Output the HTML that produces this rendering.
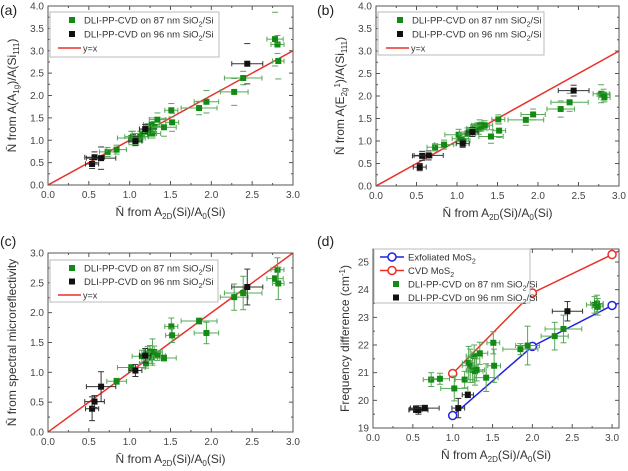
<!DOCTYPE html>
<html><head><meta charset="utf-8"><style>
body{margin:0;background:#fff;width:628px;height:471px;overflow:hidden}
svg{display:block;font-family:"Liberation Sans",sans-serif}
</style></head><body>
<svg id="chart" width="628" height="471" viewBox="0 0 628 471"></svg>
<script>
// shared x values (N from A2D(Si)/A0(Si))
const greenX =   [0.73,0.84,1.02,1.04,1.08,1.13,1.15,1.20,1.22,1.25,1.27,1.28,1.30,1.34,1.42,1.51,1.52,1.85,1.94,2.28,2.39,2.78,2.81,2.82];
const greenXerr= [0.10,0.12,0.17,0.10,0.08,0.10,0.12,0.08,0.10,0.08,0.10,0.10,0.10,0.10,0.15,0.08,0.08,0.22,0.15,0.17,0.23,0.10,0.08,0.07];
const blackX =   [0.54,0.57,0.65,1.07,1.19,2.44];
const blackXerr= [0.08,0.12,0.18,0.08,0.07,0.19];
// panel a
const greenYa = [0.74,0.79,1.05,1.08,1.00,1.08,1.15,1.20,1.25,1.15,1.35,1.15,1.30,1.46,1.29,1.67,1.40,1.72,1.86,2.08,2.39,3.26,3.14,2.77];
const greenYaErr=[0.1,0.1,0.15,0.12,0.1,0.12,0.1,0.12,0.12,0.1,0.15,0.1,0.12,0.15,0.2,0.15,0.2,0.15,0.25,0.3,0.15,0.6,0.2,0.4];
const blackYa = [0.47,0.62,0.60,0.98,1.25,2.71];
const blackYaErr=[0.1,0.12,0.25,0.1,0.1,0.45];
// panel b
const greenYb = [0.86,0.92,1.14,1.05,1.00,1.17,1.20,1.25,1.28,1.30,1.27,1.35,1.32,1.35,1.10,1.48,1.23,1.47,1.59,1.71,1.86,2.05,2.03,1.97];
const greenYbErr=[0.08,0.1,0.12,0.1,0.1,0.12,0.1,0.12,0.1,0.1,0.12,0.12,0.1,0.1,0.15,0.1,0.15,0.12,0.12,0.18,0.2,0.2,0.12,0.1];
const blackYb = [0.42,0.67,0.68,0.94,1.20,2.12];
const blackYbErr=[0.08,0.1,0.1,0.08,0.1,0.12];
// panel c
const greenYc = [null,0.85,1.08,null,null,null,1.27,1.15,1.31,1.35,1.25,1.34,1.34,1.28,1.24,1.77,1.62,1.86,1.66,2.26,2.33,2.57,2.72,2.49];
const greenYcErr=[0,0.05,0.05,0,0,0,0.1,0.08,0.12,0.1,0.1,0.22,0.1,0.08,0.05,0.14,0.12,0.05,0.18,0.22,0.28,0.05,0.2,0.27];
const blackYc = [0.39,0.51,0.76,1.03,1.28,2.43];
const blackYcErr=[0.2,0.1,0.25,0.1,0.12,0.3];
// panel d
const greenYd = [20.75,20.78,20.43,null,null,null,20.75,21.35,21.25,21.10,21.60,21.05,21.10,21.70,20.82,22.08,21.25,21.85,21.98,22.32,22.58,23.45,23.50,23.38];
const greenYdErr=[0.25,0.2,0.45,0,0,0,0.3,0.6,0.6,0.45,0.4,0.5,0.4,0.4,0.5,0.4,0.6,0.2,0.7,0.5,0.5,0.3,0.3,0.3];
const blackYd = [19.68,19.65,19.72,19.72,20.20,23.22];
const blackYdErr=[0.12,0.15,0.1,0.35,0.1,0.35];
const exfX=[1,2,3,3.1], exfY=[19.45,21.95,23.43,23.52];
const cvdX=[1,2,3,3.1], cvdY=[20.97,23.88,25.27,25.42];
const xTicks=[0,0.5,1,1.5,2,2.5,3];
const yTicks4=[0,0.5,1,1.5,2,2.5,3,3.5,4];
const yTicks3=[0,0.5,1,1.5,2,2.5,3];
const yTicksD=[19,20,21,22,23,24,25];

const svg=document.getElementById('chart');
const NS='http://www.w3.org/2000/svg';
function mk(tag,attrs,parent,text){const e=document.createElementNS(NS,tag);for(const k in attrs)e.setAttribute(k,attrs[k]);if(text!==undefined)e.textContent=text;(parent||svg).appendChild(e);return e;}

function panel(P){
  const g=mk('g',{});
  
  
  const sx=v=>P.l+(v-P.xmin)/(P.xmax-P.xmin)*(P.r-P.l);
  const sy=v=>P.b-(v-P.ymin)/(P.ymax-P.ymin)*(P.b-P.t);
  const clip='c'+P.name;
  const cp=mk('clipPath',{id:clip},g);mk('rect',{x:P.l,y:P.t,width:P.r-P.l,height:P.b-P.t},cp);
  const tc='#555';
  P.xt.forEach(v=>{const x=sx(v);
    const t=mk('line',{x1:x,x2:x,y1:P.b,y2:P.b-4,stroke:tc,'stroke-width':1},g);
    
    mk('line',{x1:x,x2:x,y1:P.t,y2:P.t+4,stroke:tc},g);
    const l=mk('text',{x:x,y:P.b+13,'text-anchor':'middle','font-size':10,fill:'#444'},g,v.toFixed(1));
    
    const m=x+(sx(0.25)-sx(0));if(v+0.25<=P.xmax){mk('line',{x1:m,x2:m,y1:P.b,y2:P.b-2,stroke:tc},g);mk('line',{x1:m,x2:m,y1:P.t,y2:P.t+2,stroke:tc},g);}
  });
  P.yt.forEach((v,i)=>{const y=sy(v);
    const t=mk('line',{x1:P.l,x2:P.l+4,y1:y,y2:y,stroke:tc},g);
    
    mk('line',{x1:P.r,x2:P.r-4,y1:y,y2:y,stroke:tc},g);
    const l=mk('text',{x:P.l-4,y:y+3.5,'text-anchor':'end','font-size':10,fill:'#444'},g,P.yfmt(v));
    
    if(i<P.yt.length-1){const m=(y+sy(P.yt[i+1]))/2;mk('line',{x1:P.l,x2:P.l+2,y1:m,y2:m,stroke:tc},g);mk('line',{x1:P.r,x2:P.r-2,y1:m,y2:m,stroke:tc},g);}
  });
  const pg=mk('g',{'clip-path':'url(#'+clip+')'},g);
  if(P.diag){const d=mk('line',{x1:sx(0),y1:sy(0),x2:sx(3),y2:sy(3),stroke:'#e8322b','stroke-width':1.5},pg);
    }
  if(P.lines){P.lines.forEach(L=>{
    const pts=L.x.map((v,i)=>sx(v)+','+sy(L.y[i])).join(' ');
    const pl=mk('polyline',{points:pts,fill:'none',stroke:L.c,'stroke-width':1.5},pg);
    
    L.x.forEach((v,i)=>{if(v>3.05)return;const c=mk('circle',{cx:sx(v),cy:sy(L.y[i]),r:4,fill:'#fff',stroke:L.c,'stroke-width':1.5},pg);
      });
  });}
  function series(xs,xe,ys,ye,col,ecol,nm){
    xs.forEach((x,i)=>{const y=ys[i];if(y===null)return;
      const X=sx(x),Y=sy(y),x1=sx(x-xe[i]),x2=sx(x+xe[i]),y1=sy(y-ye[i]),y2=sy(y+ye[i]);
      const e=mk('g',{stroke:ecol,'stroke-width':1},pg);
      
      mk('line',{x1:x1,x2:x2,y1:Y,y2:Y},e);mk('line',{x1:x1,x2:x1,y1:Y-2.5,y2:Y+2.5},e);mk('line',{x1:x2,x2:x2,y1:Y-2.5,y2:Y+2.5},e);
      if(!P.capOnly)mk('line',{x1:X,x2:X,y1:y1,y2:y2},e);
      mk('line',{x1:X-3,x2:X+3,y1:y1,y2:y1},e);mk('line',{x1:X-3,x2:X+3,y1:y2,y2:y2},e);
      const r=mk('rect',{x:X-3,y:Y-3,width:6,height:6,fill:col},pg);
      
    });
  }
  series(greenX,greenXerr,P.gy,P.gye,'#138a13','#55a855','green-series');
  series(blackX,blackXerr,P.by,P.bye,'#111','#333','black-series');
  const fr=mk('rect',{x:P.l,y:P.t,width:P.r-P.l,height:P.b-P.t,fill:'none',stroke:'#555','stroke-width':1},g);
  
  const lg=mk('g',{},g);
  mk('rect',{x:P.lg.x,y:P.lg.y,width:P.lg.w,height:P.lg.h,fill:'#fff',stroke:'#bbb'},lg);
  P.lg.items.forEach((it,i)=>{const y=P.lg.y+8+i*P.lg.dy,x=P.lg.x;
    const en=mk('g',{},lg);
    if(it.t==='sq')mk('rect',{x:x+19,y:y-3,width:6,height:6,fill:it.c},en);
    else if(it.t==='ln')mk('line',{x1:x+8,x2:x+31,y1:y,y2:y,stroke:it.c,'stroke-width':1.5},en);
    else{mk('line',{x1:x+6,x2:x+30,y1:y,y2:y,stroke:it.c,'stroke-width':1.5},en);mk('circle',{cx:x+18,cy:y,r:4,fill:'#fff',stroke:it.c,'stroke-width':1.5},en);}
    const tx=mk('text',{x:x+(it.t==='ln'?33:34),y:y+3.5,'font-size':it.t==='ln'?9:9.5,fill:'#333'},en);tx.innerHTML=it.label;
  });
  const xt=mk('text',{x:(P.l+P.r)/2,y:P.b+31,'text-anchor':'middle','font-size':12,fill:'#333'},g);
  xt.innerHTML='N\u0304 from A<tspan font-size="8" dy="3">2D</tspan><tspan dy="-3">(Si)/A</tspan><tspan font-size="8" dy="3">0</tspan><tspan dy="-3">(Si)</tspan>';
  
  const yx=P.l-P.ytOff,yc=(P.t+P.b)/2;
  const yt=mk('text',{x:yx,y:yc,'text-anchor':'middle','font-size':12,fill:'#333',transform:'rotate(-90 '+yx+' '+yc+')'},g);
  yt.innerHTML=P.ytitle;
  const pl=mk('text',{x:P.lab[0],y:P.lab[1],'font-size':14,fill:'#222'},g,P.label);
  
}
const sqItems=[{t:'sq',c:'#138a13',label:'DLI-PP-CVD on 87 nm SiO<tspan font-size="7" dy="3">2</tspan><tspan dy="-3">/Si</tspan>'},
  {t:'sq',c:'#111',label:'DLI-PP-CVD on 96 nm SiO<tspan font-size="7" dy="3">2</tspan><tspan dy="-3">/Si</tspan>'}];
const yx=[{t:'ln',c:'#e8322b',label:'y=x'}];
const f1=v=>v.toFixed(1), f0=v=>v.toFixed(0);
panel({name:'panel-a',l:48,r:293,t:6,b:185,xmin:0,xmax:3,ymin:0,ymax:4,xt:xTicks,yt:yTicks4,yfmt:f1,diag:true,capOnly:true,
  gy:greenYa,gye:greenYaErr,by:blackYa,bye:blackYaErr,label:'(a)',lab:[0,15],ytOff:32,
  ytitle:'N\u0304 from A(A<tspan font-size="8" dy="3">1g</tspan><tspan dy="-3">)/A(Si</tspan><tspan font-size="8" dy="3">111</tspan><tspan dy="-3">)</tspan>',
  lg:{x:50,y:12,w:169,h:45,dy:14,items:sqItems.concat(yx)}});
panel({name:'panel-b',l:376,r:619,t:6,b:186,xmin:0,xmax:3,ymin:0,ymax:4,xt:xTicks,yt:yTicks4,yfmt:f1,diag:true,capOnly:true,
  gy:greenYb,gye:greenYbErr,by:blackYb,bye:blackYbErr,label:'(b)',lab:[317,15],ytOff:32,
  ytitle:'N\u0304 from A(E<tspan font-size="8" dy="3">2g</tspan><tspan font-size="8" dy="-7">1</tspan><tspan dy="4">)/A(Si</tspan><tspan font-size="8" dy="3">111</tspan><tspan dy="-3">)</tspan>',
  lg:{x:378,y:12,w:166,h:43,dy:14,items:sqItems.concat(yx)}});
panel({name:'panel-c',l:48,r:293,t:253,b:432,xmin:0,xmax:3,ymin:0,ymax:3,xt:xTicks,yt:yTicks3,yfmt:f1,diag:true,capOnly:false,
  gy:greenYc,gye:greenYcErr,by:blackYc,bye:blackYcErr,label:'(c)',lab:[0,246],ytOff:32,
  ytitle:'N\u0304 from spectral microreflectivity',
  lg:{x:50,y:260,w:168,h:42,dy:13.5,items:sqItems.concat(yx)}});
panel({name:'panel-d',l:373,r:619,t:249,b:428,xmin:0,xmax:3.087,ymin:19,ymax:25.47,xt:xTicks,yt:yTicksD,yfmt:f0,diag:false,capOnly:false,
  gy:greenYd,gye:greenYdErr,by:blackYd,bye:blackYdErr,label:'(d)',lab:[317,246],ytOff:24,
  lines:[{x:exfX,y:exfY,c:'#2222e0',n:'exfoliated'},{x:cvdX,y:cvdY,c:'#e8322b',n:'cvd'}],
  ytitle:'Frequency difference (cm<tspan font-size="8" dy="-4">-1</tspan><tspan dy="4">)</tspan>',
  lg:{x:374,y:249,w:156,h:54,dy:13.5,items:[{t:'ci',c:'#2222e0',label:'Exfoliated MoS<tspan font-size="7" dy="3">2</tspan>'},{t:'ci',c:'#e8322b',label:'CVD MoS<tspan font-size="7" dy="3">2</tspan>'}].concat(sqItems)}});
</script>
</body></html>
